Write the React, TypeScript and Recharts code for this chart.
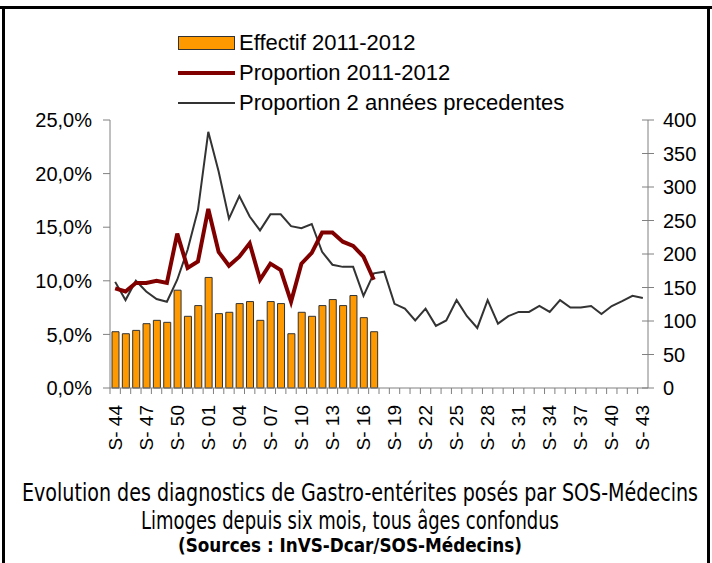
import React from "react";
import {
  ComposedChart,
  Bar,
  Line,
  XAxis,
  YAxis,
  Legend,
} from "recharts";

const WEEKS = [
  "S- 44", "S- 45", "S- 46", "S- 47", "S- 48", "S- 49", "S- 50", "S- 51", "S- 52",
  "S- 01", "S- 02", "S- 03", "S- 04", "S- 05", "S- 06", "S- 07", "S- 08", "S- 09",
  "S- 10", "S- 11", "S- 12", "S- 13", "S- 14", "S- 15", "S- 16", "S- 17", "S- 18",
  "S- 19", "S- 20", "S- 21", "S- 22", "S- 23", "S- 24", "S- 25", "S- 26", "S- 27",
  "S- 28", "S- 29", "S- 30", "S- 31", "S- 32", "S- 33", "S- 34", "S- 35", "S- 36",
  "S- 37", "S- 38", "S- 39", "S- 40", "S- 41", "S- 42", "S- 43",
];

// Effectif 2011-2012 (right axis, counts)
const EFFECTIF = [
  84, 81, 86, 96, 101, 98, 146, 107, 123, 165, 111, 113, 126, 129, 101, 129, 126,
  81, 113, 107, 123, 132, 123, 138, 105, 84,
];

// Proportion 2011-2012 (left axis, %)
const PROP_2011 = [
  9.3, 9.0, 9.8, 9.8, 10.0, 9.8, 14.4, 11.2, 11.8, 16.7, 12.7, 11.4, 12.25, 13.5,
  10.1, 11.6, 11.0, 8.05, 11.6, 12.6, 14.5, 14.5, 13.65, 13.25, 12.25, 10.1,
];

// Proportion 2 années precedentes (left axis, %)
const PROP_PREV = [
  9.9, 8.2, 10.0, 9.0, 8.3, 8.05, 10.1, 12.9, 16.6, 23.9, 20.2, 15.8, 17.9, 16.0,
  14.7, 16.2, 16.2, 15.1, 14.9, 15.3, 12.7, 11.5, 11.3, 11.3, 8.6, 10.7, 10.85,
  7.85, 7.4, 6.3, 7.4, 5.8, 6.3, 8.2, 6.7, 5.6, 8.2, 6.0, 6.7, 7.1, 7.1, 7.65, 7.1,
  8.2, 7.5, 7.5, 7.65, 6.9, 7.65, 8.1, 8.6, 8.4,
];

const LEFT_TICKS = [0, 5, 10, 15, 20, 25];
const RIGHT_TICKS = [0, 50, 100, 150, 200, 250, 300, 350, 400];

const ORANGE = "#FF9900";
const DARK_RED = "#800000";
const GRAY = "#808080";
const FONT = '"Liberation Sans", Arial, sans-serif';
const NARROW = '"Liberation Sans Narrow", "DejaVu Sans Condensed", "Liberation Sans", sans-serif';

const W = 712;
const H = 563;
const PLOT_LEFT = 110;
const PLOT_RIGHT = 648;
const BAND = (PLOT_RIGHT - PLOT_LEFT) / WEEKS.length;

const data = WEEKS.map((week, i) => ({
  week,
  effectif: EFFECTIF[i] ?? null,
  prop: PROP_2011[i] ?? null,
  prev: PROP_PREV[i] ?? null,
}));

const XTick = (props: any) => {
  const { x, y, payload, index } = props;
  const bx = x - BAND / 2;
  return (
    <g>
      <line x1={bx} x2={bx} y1={y} y2={y + 6} stroke={GRAY} />
      {index % 3 === 0 && (
        <text
          transform={`translate(${x},${y + 17}) rotate(-90)`}
          textAnchor="end"
          dy="0.35em"
          fontSize={19}
          fontFamily={FONT}
          fill="#000"
        >
          {payload.value}
        </text>
      )}
    </g>
  );
};

const RightTick = (props: any) => {
  const { x, y, payload } = props;
  return (
    <g>
      <line x1={PLOT_RIGHT - 6} x2={PLOT_RIGHT + 6} y1={y} y2={y} stroke={GRAY} />
      <text x={x} y={y} dy="0.35em" textAnchor="start" fontSize={20} fontFamily={FONT} fill="#000">
        {payload.value}
      </text>
    </g>
  );
};

const LegendBox = () => {
  const row = { display: "flex", alignItems: "center", height: 30 } as const;
  const label = { fontSize: 22, fontFamily: FONT, color: "#000", marginLeft: 4 } as const;
  return (
    <div>
      <div style={row}>
        <span style={{ width: 55, height: 12, background: ORANGE, border: "1px solid #333" }} />
        <span style={label}>Effectif 2011-2012</span>
      </div>
      <div style={row}>
        <span style={{ width: 57, height: 4, background: DARK_RED }} />
        <span style={label}>Proportion 2011-2012</span>
      </div>
      <div style={row}>
        <span style={{ width: 57, height: 2, background: "#333" }} />
        <span style={label}>Proportion 2 années precedentes</span>
      </div>
    </div>
  );
};

export default function App() {
  return (
    <div style={{ position: "absolute", left: 0, top: 0, width: W, height: H, background: "#fff" }}>
      <ComposedChart
        width={W}
        height={H}
        data={data}
        margin={{ top: 120, right: 4, bottom: 115, left: 10 }}
        barSize={7}
      >
        <XAxis
          dataKey="week"
          xAxisId="x"
          interval={0}
          height={60}
          tickLine={false}
          tickSize={0}
          tickMargin={0}
          axisLine={{ stroke: GRAY }}
          tick={<XTick />}
        />
        <YAxis
          yAxisId="left"
          orientation="left"
          width={100}
          domain={[0, 25]}
          ticks={LEFT_TICKS}
          tickSize={7}
          tickMargin={11}
          axisLine={{ stroke: GRAY }}
          tickLine={{ stroke: GRAY }}
          tick={{ fill: "#000", fontSize: 20, fontFamily: FONT }}
          tickFormatter={(v: number) => `${v.toFixed(1).replace(".", ",")}%`}
        />
        <YAxis
          yAxisId="right"
          orientation="right"
          width={60}
          domain={[0, 400]}
          ticks={RIGHT_TICKS}
          tickSize={6}
          tickMargin={9}
          tickLine={false}
          axisLine={{ stroke: GRAY }}
          tick={<RightTick />}
        />
        <Legend
          layout="vertical"
          align="center"
          verticalAlign="middle"
          content={<LegendBox />}
          wrapperStyle={{ position: "absolute", left: 178, top: 28, width: 440 }}
        />
        <Bar
          xAxisId="x"
          yAxisId="right"
          dataKey="effectif"
          fill={ORANGE}
          stroke="#333"
          strokeWidth={1}
          isAnimationActive={false}
        />
        <Line
          xAxisId="x"
          yAxisId="left"
          dataKey="prev"
          stroke="#333"
          strokeWidth={2}
          dot={false}
          type="linear"
          isAnimationActive={false}
        />
        <Line
          xAxisId="x"
          yAxisId="left"
          dataKey="prop"
          stroke={DARK_RED}
          strokeWidth={4}
          dot={false}
          type="linear"
          isAnimationActive={false}
        />
      </ComposedChart>

      {/* frame */}
      <div style={{ position: "absolute", left: 0, top: 6, width: W, height: 3, background: "#000" }} />
      <div style={{ position: "absolute", left: 2, top: 6, width: 3, height: H - 6, background: "#000" }} />
      <div style={{ position: "absolute", left: 707, top: 6, width: 3, height: H - 6, background: "#000" }} />

      {/* caption */}
      <svg style={{ position: "absolute", left: 0, top: 0 }} width={W} height={H}>
        <text transform="translate(360,501) scale(1,1.2)" textAnchor="middle" fontSize={20} fontFamily={NARROW} textLength={676} lengthAdjust="spacingAndGlyphs">
          Evolution des diagnostics de Gastro-entérites posés par SOS-Médecins
        </text>
        <text transform="translate(350,529) scale(1,1.2)" textAnchor="middle" fontSize={20} fontFamily={NARROW} textLength={418} lengthAdjust="spacingAndGlyphs">
          Limoges depuis six mois, tous âges confondus
        </text>
        <text transform="translate(350,552) scale(1,1.2)" textAnchor="middle" fontSize={16} fontWeight="bold" fontFamily={NARROW} textLength={344} lengthAdjust="spacingAndGlyphs">
          (Sources : InVS-Dcar/SOS-Médecins)
        </text>
      </svg>
    </div>
  );
}
